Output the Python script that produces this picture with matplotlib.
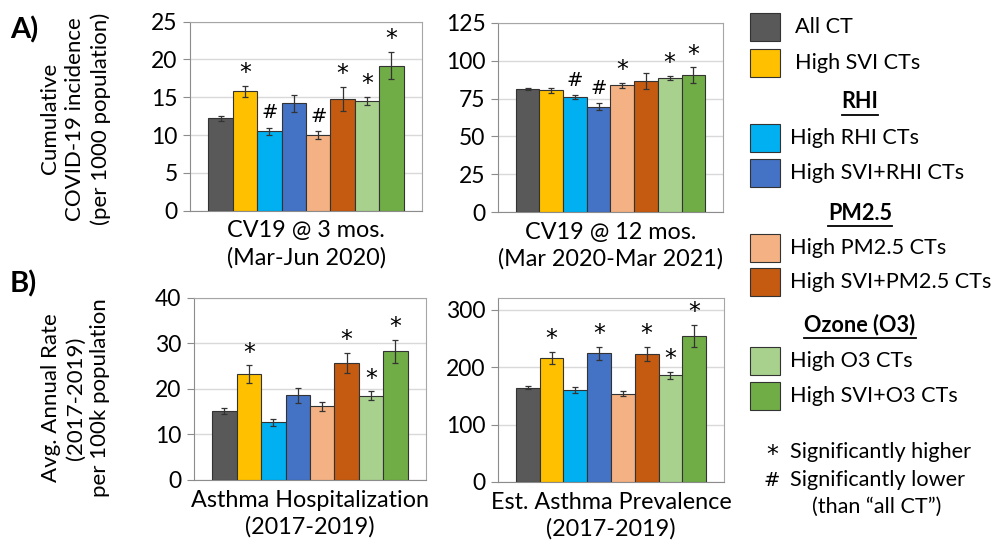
import numpy as np
import matplotlib.pyplot as plt
from matplotlib.patches import Rectangle

plt.rcParams['font.family'] = ['Lato', 'DejaVu Sans']

groups = ['All CT', 'High SVI CTs', 'High RHI CTs', 'High SVI+RHI CTs',
          'High PM2.5 CTs', 'High SVI+PM2.5 CTs', 'High O3 CTs', 'High SVI+O3 CTs']
colors = ['#595959', '#FFC000', '#00B0F0', '#4472C4',
          '#F4B183', '#C55A11', '#A9D18E', '#70AD47']

# CV19 cumulative incidence, 3 months (per 1000)
cv19_3m = [12.2, 15.8, 10.5, 14.2, 10.0, 14.8, 14.5, 19.2]
cv19_3m_err = [0.3, 0.7, 0.5, 1.1, 0.5, 1.6, 0.55, 1.8]
cv19_3m_sig = ['', '*', '#', '', '#', '*', '*', '*']

# CV19 cumulative incidence, 12 months (per 1000)
cv19_12m = [81.3, 80.5, 75.8, 69.7, 83.8, 86.6, 88.6, 90.4]
cv19_12m_err = [0.5, 1.8, 1.3, 2.2, 1.8, 5.3, 1.5, 5.3]
cv19_12m_sig = ['', '', '#', '#', '*', '', '*', '*']

# Asthma hospitalization rate (per 100k)
asthma_hosp = [15.1, 23.3, 12.65, 18.6, 16.2, 25.8, 18.5, 28.3]
asthma_hosp_err = [0.65, 1.9, 0.7, 1.65, 0.95, 2.2, 1.0, 2.5]
asthma_hosp_sig = ['', '*', '', '', '', '*', '*', '*']

# Estimated asthma prevalence (per 100k)
asthma_prev = [164, 216, 160.5, 224, 153.5, 223, 185.5, 254]
asthma_prev_err = [3, 10.4, 5.5, 11.3, 4.6, 12.5, 6, 19.4]
asthma_prev_sig = ['', '*', '', '*', '', '*', '*', '*']

fig = plt.figure(figsize=(10.06, 5.45), dpi=100)

STAR = dict(fontsize=17, family='DejaVu Sans')
HASH = dict(fontsize=14, family='DejaVu Sans')


def bar_panel(rect, vals, errs, sig, ymax, yticks, xlabel):
    ax = fig.add_axes(rect)
    x = np.arange(len(vals))
    ax.bar(x, vals, width=1.0, color=colors, edgecolor='#333333', linewidth=0.8, zorder=3)
    ax.errorbar(x, vals, yerr=errs, fmt='none', ecolor='#333333', elinewidth=0.9,
                capsize=2.5, capthick=0.9, zorder=4)
    for xi, v, e, s in zip(x, vals, errs, sig):
        if s == '*':
            ax.annotate('*', (xi, v + e), xytext=(0, 9), textcoords='offset points',
                        ha='center', va='center', zorder=5, **STAR)
        elif s == '#':
            ax.annotate('#', (xi, v + e), xytext=(0, 11), textcoords='offset points',
                        ha='center', va='center', zorder=5, **HASH)
    ax.set_xlim(-1.25, 8.25)
    ax.set_ylim(0, ymax)
    ax.set_yticks(yticks)
    ax.set_xticks([])
    ax.yaxis.grid(True, color='#D9D9D9', linewidth=1, zorder=0)
    ax.set_axisbelow(True)
    for side in ['left', 'bottom']:
        ax.spines[side].set_color('#8C8C8C')
    for side in ['top', 'right']:
        ax.spines[side].set_color('#A6A6A6')
    ax.tick_params(axis='y', length=5, color='#8C8C8C', labelsize=16.5, pad=4)
    ax.set_xlabel(xlabel, fontsize=16.8, labelpad=7, linespacing=1.3)
    return ax


bar_panel([0.1889, 0.6134, 0.2306, 0.3468], cv19_3m, cv19_3m_err, cv19_3m_sig,
          25, [0, 5, 10, 15, 20, 25], 'CV19 @ 3 mos.\n(Mar-Jun 2020)')
bar_panel([0.495, 0.611, 0.2237, 0.3468], cv19_12m, cv19_12m_err, cv19_12m_sig,
          125, [0, 25, 50, 75, 100, 125], 'CV19 @ 12 mos.\n(Mar 2020-Mar 2021)')
bar_panel([0.1928, 0.1193, 0.2306, 0.334], asthma_hosp, asthma_hosp_err, asthma_hosp_sig,
          40, [0, 10, 20, 30, 40], 'Asthma Hospitalization\n(2017-2019)')
bar_panel([0.495, 0.1156, 0.2247, 0.3376], asthma_prev, asthma_prev_err, asthma_prev_sig,
          320, [0, 100, 200, 300], 'Est. Asthma Prevalence\n(2017-2019)')

# panel tags and y-axis titles
fig.text(0.010, 0.945, 'A)', fontsize=21, fontweight='bold', va='center')
fig.text(0.010, 0.480, 'B)', fontsize=21, fontweight='bold', va='center')
fig.text(0.075, 0.782, 'Cumulative\nCOVID-19 incidence\n(per 1000 population)',
         rotation=90, ha='center', va='center', fontsize=16, linespacing=1.3)
fig.text(0.075, 0.270, 'Avg. Annual Rate\n(2017-2019)\nper 100k population',
         rotation=90, ha='center', va='center', fontsize=16, linespacing=1.3)

# legend on the right, built from swatches and headings
swatch_y = {0: 27, 1: 63, 2: 138, 3: 173, 4: 248, 5: 282, 6: 361, 7: 396}
headings = [('RHI', 102), ('PM2.5', 213), ('Ozone (O3)', 325)]
W, H = 1006.0, 545.0
LEG = 15.6
for i, name in enumerate(groups):
    yc = swatch_y[i]
    fig.patches.append(Rectangle((750 / W, 1 - (yc + 14) / H), 30 / W, 28 / H,
                                 transform=fig.transFigure, facecolor=colors[i],
                                 edgecolor='#333333', linewidth=0.8))
    tx = 795 if i < 2 else 790
    fig.text(tx / W, 1 - yc / H, name, fontsize=LEG, va='center')
for label, yc in headings:
    t = fig.text(860 / W, 1 - yc / H, label, fontsize=LEG, fontweight='bold',
                 ha='center', va='center')
    fig.canvas.draw()
    bb = t.get_window_extent()
    fig.add_artist(plt.Line2D([bb.x0 / W, bb.x1 / W], [bb.y0 / H - 0.004, bb.y0 / H - 0.004],
                              transform=fig.transFigure, color='black', linewidth=1.3))

fig.text(772 / W, 1 - 455 / H, '*', ha='center', va='center', **STAR)
fig.text(790 / W, 1 - 452 / H, 'Significantly higher', fontsize=LEG, va='center')
fig.text(772 / W, 1 - 480 / H, '#', ha='center', va='center', **HASH)
fig.text(790 / W, 1 - 480 / H, 'Significantly lower', fontsize=LEG, va='center')
fig.text(812 / W, 1 - 507 / H, '(than \u201call CT\u201d)', fontsize=LEG, va='center')

fig.savefig('out.png', dpi=100)
